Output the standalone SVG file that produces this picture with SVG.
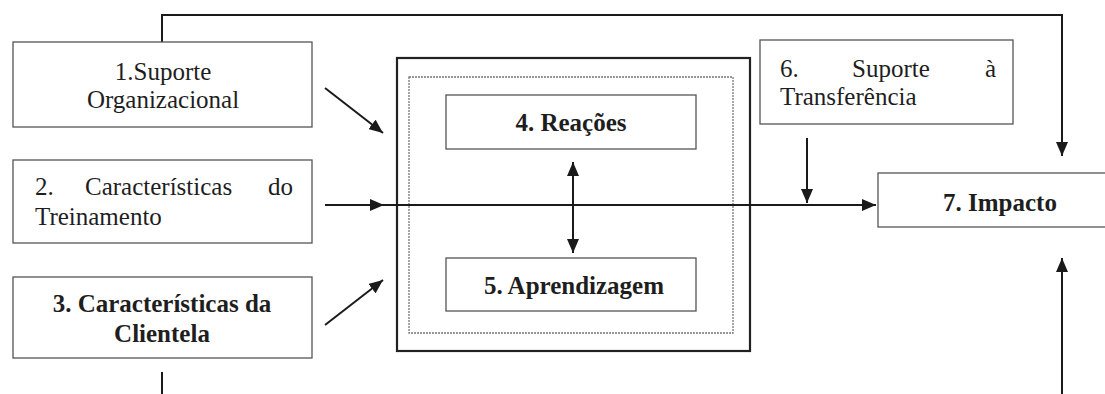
<svg xmlns="http://www.w3.org/2000/svg" width="1105" height="394" viewBox="0 0 1105 394">
<style>
.box{fill:#fff;stroke:#555;stroke-width:1.3}
.t{font-family:'Liberation Serif', 'Times New Roman', serif;font-size:25px;fill:#1e1e1e}
.b{font-weight:bold}
.c{text-anchor:middle}
.ln{fill:none;stroke:#1a1a1a;stroke-width:2}
</style>
<defs>
<marker id="ah" viewBox="0 0 14 12" refX="14" refY="6" markerWidth="14" markerHeight="12" markerUnits="userSpaceOnUse" orient="auto-start-reverse">
<path d="M0,0 L14,6 L0,12 Z" fill="#1a1a1a"/>
</marker>
</defs>
<rect width="1105" height="394" fill="#fff"/>
<g id="container">
<rect x="397" y="58" width="353" height="293" fill="none" stroke="#222" stroke-width="2.2"/>
<rect x="409" y="77" width="324" height="256" fill="none" stroke="#777" stroke-width="1.3" stroke-dasharray="2,1"/>
</g>
<g id="connectors">
<path class="ln" d="M162,42 V15 H1062 V156" marker-end="url(#ah)"/>
<path class="ln" d="M162,372 V394"/>
<path class="ln" d="M1062,394 V258" marker-end="url(#ah)"/>
<path class="ln" d="M325,88 L383,133" marker-end="url(#ah)"/>
<path class="ln" d="M325,325 L383,280" marker-end="url(#ah)"/>
<path class="ln" d="M325,205 H384" marker-end="url(#ah)"/>
<path class="ln" d="M383,205 H876" marker-end="url(#ah)"/>
<path class="ln" d="M807,138 V203" marker-end="url(#ah)"/>
<path class="ln" d="M573,162 V253" marker-start="url(#ah)" marker-end="url(#ah)"/>
</g>
<g id="n1">
<rect class="box" x="13" y="42" width="299" height="85"/>
<text class="t c" x="163" y="80">1.Suporte</text>
<text class="t c" x="163" y="108">Organizacional</text>
</g>
<g id="n2">
<rect class="box" x="13" y="160" width="299" height="83"/>
<text class="t" y="195"><tspan x="35">2.</tspan><tspan x="85">Características</tspan><tspan x="268">do</tspan></text>
<text class="t" x="35" y="225">Treinamento</text>
</g>
<g id="n3">
<rect class="box" x="13" y="277" width="299" height="81"/>
<text class="t b c" x="162" y="312">3. Características da</text>
<text class="t b c" x="162" y="342">Clientela</text>
</g>
<g id="n4">
<rect class="box" x="446" y="95" width="250" height="54"/>
<text class="t b c" x="571" y="131">4. Reações</text>
</g>
<g id="n5">
<rect class="box" x="446" y="258" width="250" height="53"/>
<text class="t b c" x="574" y="294">5. Aprendizagem</text>
</g>
<g id="n6">
<rect class="box" x="760" y="40" width="253" height="84"/>
<text class="t" y="77"><tspan x="780">6.</tspan><tspan x="852">Suporte</tspan><tspan x="985">à</tspan></text>
<text class="t" x="780" y="105">Transferência</text>
</g>
<g id="n7">
<rect class="box" x="878" y="173" width="240" height="54"/>
<text class="t b c" x="1000" y="211">7. Impacto</text>
</g>
</svg>
